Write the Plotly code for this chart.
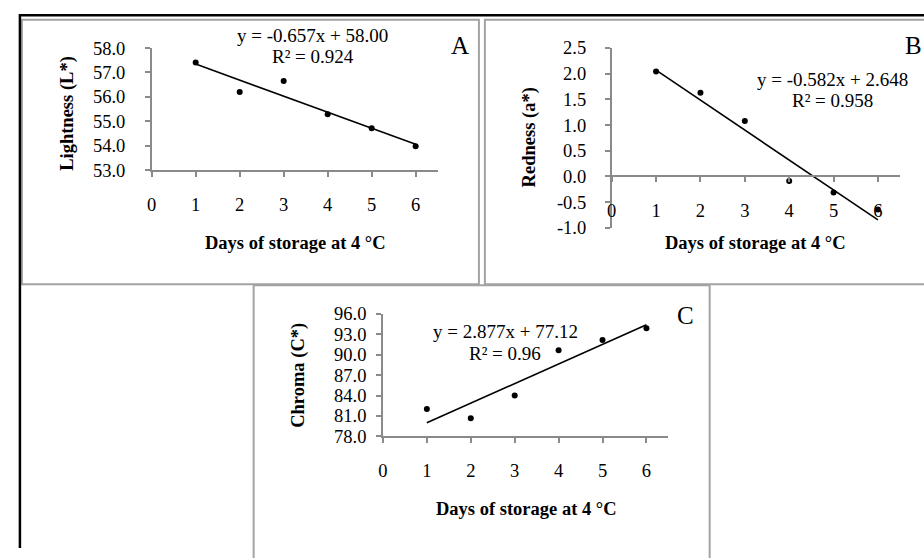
import plotly.graph_objects as go

# ---- data ----
days = [1, 2, 3, 4, 5, 6]
lightness = [57.41, 56.20, 56.65, 55.29, 54.71, 53.98]
redness = [2.04, 1.63, 1.08, -0.09, -0.31, -0.64]
chroma = [82.04, 80.68, 84.02, 90.63, 92.13, 93.88]

fit_a = (-0.657, 58.00)
fit_b = (-0.582, 2.648)
fit_c = (2.877, 77.12)

eq_a = ["y = -0.657x + 58.00", "R² = 0.924"]
eq_b = ["y = -0.582x + 2.648", "R² = 0.958"]
eq_c = ["y = 2.877x + 77.12", "R² = 0.96"]

x_ticks = [0, 1, 2, 3, 4, 5, 6]
ticks_a = [53.0, 54.0, 55.0, 56.0, 57.0, 58.0]
ticks_b = [-1.0, -0.5, 0.0, 0.5, 1.0, 1.5, 2.0, 2.5]
labels_b = ["-1.0", "-0.5", "0.0", "0.5", "1.0", "1.5", "2.0", "2.5"]
ticks_c = [78.0, 81.0, 84.0, 87.0, 90.0, 93.0, 96.0]

ytitle_a = "Lightness (L*)"
ytitle_b = "Redness (a*)"
ytitle_c = "Chroma (C*)"
xtitle = "Days of storage at 4 °C"

W, H = 924, 558
FONT = "Liberation Serif, Times New Roman, serif"


def px(x):
    return x / W


def py(y):
    return 1 - y / H


fig = go.Figure()


def add_panel(idx, yvals, fit):
    xa = "x" if idx == 1 else f"x{idx}"
    ya = "y" if idx == 1 else f"y{idx}"
    fig.add_trace(go.Scatter(x=days, y=yvals, mode="markers",
                             marker=dict(color="black", size=6),
                             xaxis=xa, yaxis=ya, showlegend=False))
    m, b = fit
    xs = [days[0], days[-1]]
    fig.add_trace(go.Scatter(x=xs, y=[m * v + b for v in xs], mode="lines",
                             line=dict(color="black", width=1.6),
                             xaxis=xa, yaxis=ya, showlegend=False))


add_panel(1, lightness, fit_a)
add_panel(2, redness, fit_b)
add_panel(3, chroma, fit_c)

axcol = "#8a8a8a"
tickfont = dict(family=FONT, size=18.5, color="black")


def xax(dom, **kw):
    d = dict(domain=[px(dom[0]), px(dom[1])], range=[0, 6.5],
             tickmode="array", tickvals=x_ticks,
             showline=True, linecolor=axcol, linewidth=1.5, ticks="outside",
             ticklen=5, tickcolor=axcol, tickwidth=1.5, showgrid=False,
             zeroline=False, tickfont=tickfont, ticklabelstandoff=12, fixedrange=True)
    d.update(kw)
    return d


def yax(dom, rng, tv, **kw):
    d = dict(domain=[py(dom[1]), py(dom[0])], range=rng,
             tickmode="array", tickvals=tv,
             showline=True, linecolor=axcol, linewidth=1.5, ticks="outside",
             ticklen=5, tickcolor=axcol, tickwidth=1.5, showgrid=False,
             zeroline=False, tickfont=tickfont, tickformat=".1f",
             ticklabelstandoff=16, fixedrange=True)
    d.update(kw)
    return d


ydomB = (39.3, 226)
yrngB = [-1.0, 2.5]
# paper position of y = 0 on panel B's axis
posB = py(ydomB[1]) + (0 - yrngB[0]) / (yrngB[1] - yrngB[0]) * (py(ydomB[0]) - py(ydomB[1]))

fig.update_layout(
    width=W, height=H, autosize=False,
    margin=dict(l=0, r=0, t=0, b=0),
    paper_bgcolor="white", plot_bgcolor="white",
    font=dict(family=FONT, color="black"),
    xaxis=xax((147.5, 435), anchor="y"),
    yaxis=yax((39.5, 166), [53, 58], ticks_a, anchor="x"),
    xaxis2=xax((610, 900), anchor="free", position=posB, ticklabelstandoff=13),
    yaxis2=yax(ydomB, yrngB, ticks_b, ticktext=labels_b, anchor="x2", ticklabelstandoff=15),
    xaxis3=xax((380, 667), anchor="y3"),
    yaxis3=yax((315, 442.3), [78, 96], ticks_c, anchor="x3", ticklabelstandoff=6),
)

frame = "#a3a3a3"
shapes = [
    # panel A frame
    dict(type="rect", x0=px(17), x1=px(476.5), y0=py(284.5), y1=py(10), line=dict(color=frame, width=2)),
    # panel B frame
    dict(type="rect", x0=px(482.5), x1=px(930), y0=py(284.5), y1=py(10), line=dict(color=frame, width=2)),
    # panel C frame
    dict(type="rect", x0=px(250), x1=px(708.5), y0=py(570), y1=py(285.5), line=dict(color=frame, width=2)),
    # black page lines
    dict(type="line", x0=px(14), x1=px(924), y0=py(5.5), y1=py(5.5), line=dict(color="black", width=2.5)),
    dict(type="line", x0=px(15), x1=px(15), y0=py(4.5), y1=py(558), line=dict(color="black", width=2.5)),
]
for s in shapes:
    s.update(xref="paper", yref="paper", layer="below")
fig.update_layout(shapes=shapes)

ann = []


def text(x, y, t, size=19, bold=False, angle=0):
    ann.append(dict(x=px(x), y=py(y), xref="paper", yref="paper", text=f"<b>{t}</b>" if bold else t,
                    showarrow=False, textangle=angle, xanchor="center", yanchor="middle",
                    font=dict(family=FONT, size=size, color="black")))


# panel A
text(309, 26, eq_a[0]); text(310, 48, eq_a[1])
text(457, 37, "A", size=25)
text(63, 107, ytitle_a, size=18.5, bold=True, angle=-90)
text(292, 242, xtitle, size=18.5, bold=True)
# panel B
text(832, 72, eq_b[0]); text(832, 94, eq_b[1])
text(913, 37, "B", size=25)
text(527, 132, ytitle_b, size=18.5, bold=True, angle=-90)
text(755, 242, xtitle, size=18.5, bold=True)
# panel C
text(503, 333, eq_c[0]); text(503, 356, eq_c[1])
text(684, 317, "C", size=25)
text(295, 379, ytitle_c, size=18.5, bold=True, angle=-90)
text(524, 518, xtitle, size=18.5, bold=True)

fig.update_layout(annotations=ann)

fig.write_html("out.html", config={"displayModeBar": False},
               post_script="document.body.style.margin='0px';document.body.style.overflow='hidden';")
